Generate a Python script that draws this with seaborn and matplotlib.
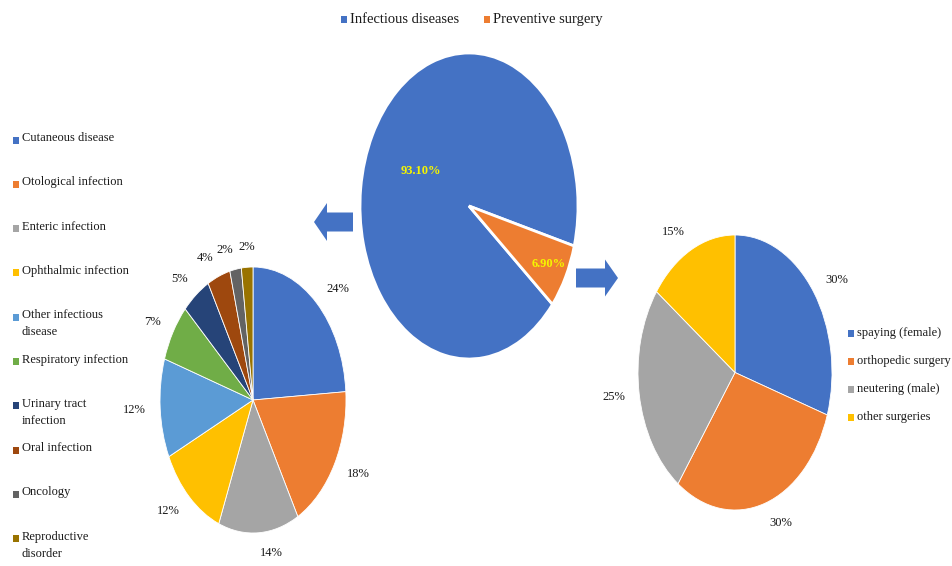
import matplotlib
matplotlib.use("Agg")
import matplotlib.pyplot as plt
from matplotlib.patches import FancyArrow, Rectangle
import numpy as np
import seaborn as sns

# ---------------- data ----------------
main_labels = ["Infectious diseases", "Preventive surgery"]
main_values = [93.10, 6.90]

infect_labels = ["Cutaneous disease", "Otological infection", "Enteric infection",
                 "Ophthalmic infection", "Other infectious\ndisease", "Respiratory infection",
                 "Urinary tract\ninfection", "Oral infection", "Oncology", "Reproductive\ndisorder"]
infect_values = [24, 18, 14, 12, 12, 7, 5, 4, 2, 2]

surg_labels = ["spaying (female)", "orthopedic surgery", "neutering (male)", "other surgeries"]
surg_values = [30, 30, 25, 15]

# ---------------- style ----------------
sns.set_theme(style="white")
plt.rcParams["font.family"] = ["Liberation Serif", "DejaVu Serif"]
plt.rcParams["text.color"] = "#1a1a1a"

office = sns.color_palette(["#4472C4", "#ED7D31", "#A5A5A5", "#FFC000", "#5B9BD5",
                            "#70AD47", "#264478", "#9E480E", "#636363", "#997300"])

W, H = 952, 566
fig = plt.figure(figsize=(W / 100, H / 100), dpi=100)
fig.patch.set_facecolor("white")


def rect(x0, y0, x1, y1):
    return [x0 / W, 1 - y1 / H, (x1 - x0) / W, (y1 - y0) / H]


# background axes in pixel coordinates for arrows and legends
bg = fig.add_axes([0, 0, 1, 1])
bg.set_xlim(0, W)
bg.set_ylim(H, 0)
bg.axis("off")

# ---------------- main pie ----------------
ax_main = fig.add_axes(rect(360, 53, 578, 359))
wedges, _ = ax_main.pie(main_values, colors=office[:2], startangle=-40, counterclock=False,
                        wedgeprops=dict(edgecolor="white", linewidth=2))
ax_main.set_aspect("auto")
ax_main.set_xlim(-1, 1)
ax_main.set_ylim(-1, 1)
for w, v, d in zip(wedges, main_values, [0.5, 0.82]):
    ang = np.deg2rad((w.theta1 + w.theta2) / 2)
    ax_main.text(d * np.cos(ang), d * np.sin(ang), f"{v:.2f}%", ha="center", va="center",
                 color="#F5F500", fontsize=9, fontweight="bold")

# ---------------- left pie ----------------
ax_left = fig.add_axes(rect(160, 267, 346, 533))
_, left_texts = ax_left.pie(infect_values, colors=office, startangle=90, counterclock=False,
                            labels=[f"{v}%" for v in infect_values], labeldistance=1.15,
                            textprops=dict(fontsize=9, color="#1a1a1a"),
                            wedgeprops=dict(edgecolor="white", linewidth=0.6))
left_texts[-1].set_ha("center")
ax_left.set_aspect("auto")
ax_left.set_xlim(-1, 1)
ax_left.set_ylim(-1, 1)

# ---------------- right pie ----------------
ax_right = fig.add_axes(rect(638, 235, 832, 510))
ax_right.pie(surg_values, colors=office[:4], startangle=90, counterclock=False,
             labels=[f"{v}%" for v in surg_values], labeldistance=1.15,
             textprops=dict(fontsize=9, color="#1a1a1a"),
             wedgeprops=dict(edgecolor="white", linewidth=0.6))
ax_right.set_aspect("auto")
ax_right.set_xlim(-1, 1)
ax_right.set_ylim(-1, 1)

# ---------------- arrows ----------------
bg.add_patch(FancyArrow(353, 222, -39, 0, width=19, head_width=38, head_length=13,
                        length_includes_head=True, color="#4472C4", lw=0))
bg.add_patch(FancyArrow(576, 278, 42, 0, width=19, head_width=37, head_length=13,
                        length_includes_head=True, color="#4472C4", lw=0))

# ---------------- legends ----------------
# top legend
for (x_sq, x_txt), lab, col in zip([(341, 350), (484, 493)], main_labels, office[:2]):
    bg.add_patch(Rectangle((x_sq, 16), 6, 7, color=col, lw=0))
    bg.text(x_txt, 19.5, lab, fontsize=10.5, va="center", ha="left")

# left legend
y0, step = 140, 44.3
for i, (lab, col) in enumerate(zip(infect_labels, office)):
    y = y0 + i * step
    bg.add_patch(Rectangle((13, y - 3.5), 6, 7, color=col, lw=0))
    bg.text(22, y - 8, lab, fontsize=9, va="top", ha="left", linespacing=1.55)

# right legend
for i, (lab, col) in enumerate(zip(surg_labels, office[:4])):
    y = 333 + i * 28
    bg.add_patch(Rectangle((848, y - 3.5), 6, 7, color=col, lw=0))
    bg.text(857, y, lab, fontsize=9, va="center", ha="left")

fig.savefig("out.png", dpi=100)
